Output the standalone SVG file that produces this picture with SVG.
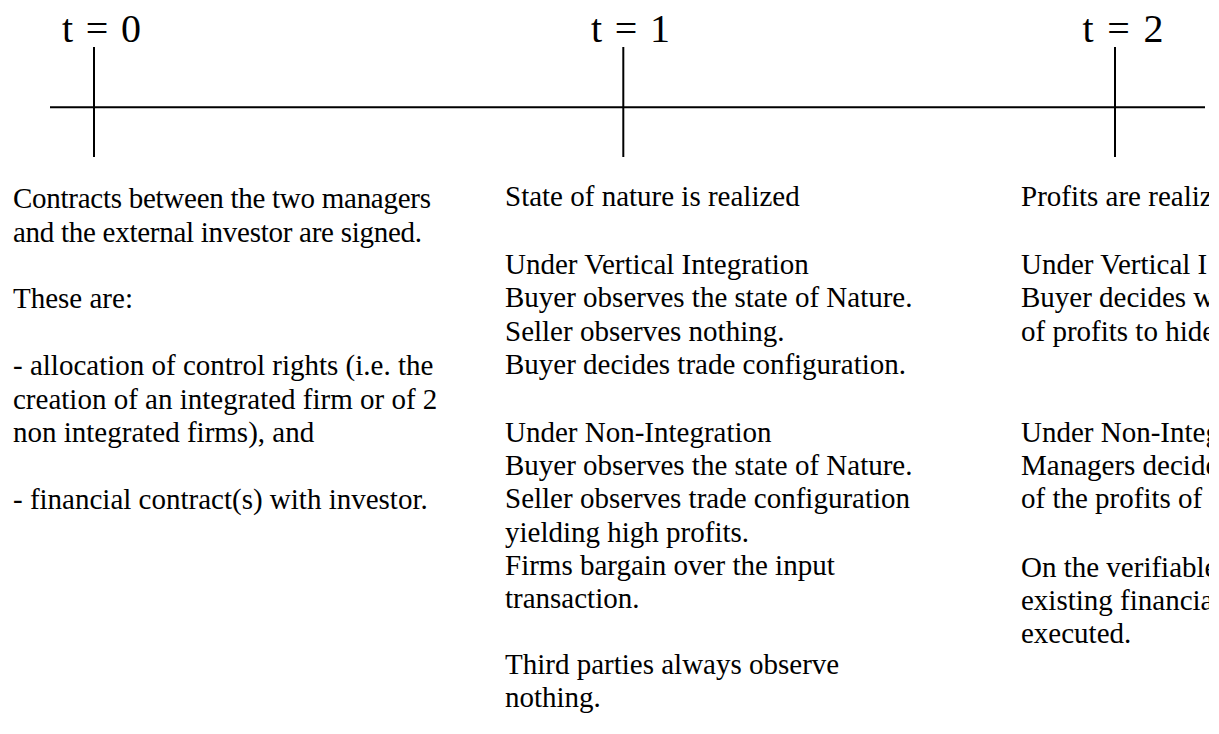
<svg xmlns="http://www.w3.org/2000/svg" width="1219" height="734" viewBox="0 0 1219 734">
<style>
  .ax { stroke: #000; stroke-width: 2; fill: none; }
  .tk { stroke: #000; stroke-width: 2; fill: none; }
  .lbl { font-family: "Liberation Serif", "Times New Roman", serif; font-size: 40px; fill: #000; }
  .tx { font-family: "Liberation Serif", "Times New Roman", serif; font-size: 29px; fill: #000; }
</style>
<defs>
  <clipPath id="crop"><rect x="0" y="0" width="1209" height="734"/></clipPath>
</defs>
<rect width="1219" height="734" fill="#fff"/>
<g clip-path="url(#crop)">
<g id="connectors">
  <line class="ax" x1="50" y1="107.3" x2="1205" y2="107.3"/>
</g>
<g id="t0">
  <line class="tk" x1="94" y1="47" x2="94" y2="157"/>
  <text class="lbl" x="62" y="41.5" textLength="79" lengthAdjust="spacing">t = 0</text>
  <text class="tx" x="13" y="208" textLength="418" lengthAdjust="spacing">Contracts between the two managers</text>
  <text class="tx" x="13" y="241.5" textLength="409" lengthAdjust="spacing">and the external investor are signed.</text>
  <text class="tx" x="13" y="308">These are:</text>
  <text class="tx" x="13" y="375">- allocation of control rights (i.e. the</text>
  <text class="tx" x="13" y="408.5">creation of an integrated firm or of 2</text>
  <text class="tx" x="13" y="441.5">non integrated firms), and</text>
  <text class="tx" x="13" y="508.5">- financial contract(s) with investor.</text>
</g>
<g id="t1">
  <line class="tk" x1="623.3" y1="47" x2="623.3" y2="157"/>
  <text class="lbl" x="591" y="41.5" textLength="79" lengthAdjust="spacing">t = 1</text>
  <text class="tx" x="505" y="206">State of nature is realized</text>
  <text class="tx" x="505" y="274">Under Vertical Integration</text>
  <text class="tx" x="505" y="307">Buyer observes the state of Nature.</text>
  <text class="tx" x="505" y="340.5">Seller observes nothing.</text>
  <text class="tx" x="505" y="373.5">Buyer decides trade configuration.</text>
  <text class="tx" x="505" y="441.5">Under Non-Integration</text>
  <text class="tx" x="505" y="475">Buyer observes the state of Nature.</text>
  <text class="tx" x="505" y="508">Seller observes trade configuration</text>
  <text class="tx" x="505" y="541.5">yielding high profits.</text>
  <text class="tx" x="505" y="574.5">Firms bargain over the input</text>
  <text class="tx" x="505" y="607.5">transaction.</text>
  <text class="tx" x="505" y="674">Third parties always observe</text>
  <text class="tx" x="505" y="707">nothing.</text>
</g>
<g id="t2">
  <line class="tk" x1="1115" y1="47" x2="1115" y2="157"/>
  <text class="lbl" x="1082.5" y="41.5" textLength="81" lengthAdjust="spacing">t = 2</text>
  <text class="tx" x="1021" y="206">Profits are realiz</text>
  <text class="tx" x="1021" y="274">Under Vertical I</text>
  <text class="tx" x="1021" y="307">Buyer decides w</text>
  <text class="tx" x="1021" y="340.5">of profits to hide</text>
  <text class="tx" x="1021" y="441.5">Under Non-Integ</text>
  <text class="tx" x="1021" y="475">Managers decide</text>
  <text class="tx" x="1021" y="508">of the profits of</text>
  <text class="tx" x="1021" y="577">On the verifiable</text>
  <text class="tx" x="1021" y="610">existing financia</text>
  <text class="tx" x="1021" y="643">executed.</text>
</g>
</g>
</svg>
